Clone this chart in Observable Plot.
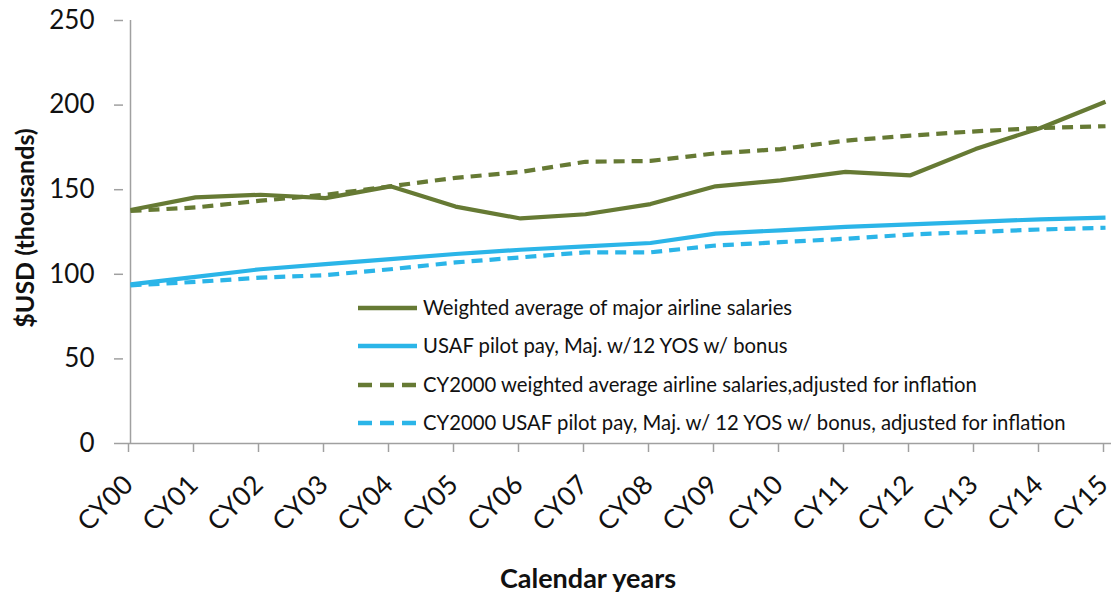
<!DOCTYPE html>
<html>
<head>
<meta charset="utf-8">
<script src="https://cdn.jsdelivr.net/npm/d3@7"></script>
<script src="https://cdn.jsdelivr.net/npm/@observablehq/plot@0.6"></script>
<style>
  html, body { margin: 0; padding: 0; background: #fff; }
  #chart svg { display: block; }
</style>
</head>
<body>
<div id="chart"></div>
<script>
const years = ["CY00","CY01","CY02","CY03","CY04","CY05","CY06","CY07","CY08","CY09","CY10","CY11","CY12","CY13","CY14","CY15"];
const airlineSalaries = [138, 145.5, 147, 145, 152, 140, 133, 135.5, 141.5, 152, 155.5, 160.5, 158.5, 174, 186.5, 202];
const usafPay = [94, 98.5, 103, 106, 109, 112, 114.5, 116.5, 118.5, 124, 126, 128, 129.5, 131, 132.5, 133.5];
const airlineAdjusted = [137.5, 139.5, 143.5, 147, 152, 157, 160.5, 166.5, 167, 171.5, 174, 179, 182, 184.5, 186.5, 187.5];
const usafAdjusted = [93.5, 95.5, 98, 99.5, 103, 107, 110, 113, 113, 117, 119, 121, 123.5, 125, 126.5, 127.5];
const seriesNames = [
  "Weighted average of major airline salaries",
  "USAF pilot pay, Maj. w/12 YOS w/ bonus",
  "CY2000 weighted average airline salaries,adjusted for inflation",
  "CY2000 USAF pilot pay, Maj. w/ 12 YOS w/ bonus, adjusted for inflation"
];
const yTicks = [0, 50, 100, 150, 200, 250];

const GREEN = "#667a34";
const BLUE = "#2bb5e8";
const AXIS = "#a0a0a0";
const FONT = "Lato, 'Open Sans', sans-serif";

const seriesDefs = [
  {name: seriesNames[0], values: airlineSalaries, color: GREEN, dash: null},
  {name: seriesNames[1], values: usafPay, color: BLUE, dash: null},
  {name: seriesNames[2], values: airlineAdjusted, color: GREEN, dash: "11,7"},
  {name: seriesNames[3], values: usafAdjusted, color: BLUE, dash: "11,7"}
];
const rows = s => years.map((y, i) => ({year: y, value: s.values[i]}));

const lineMarks = [];
[2, 3, 1, 0].forEach(k => {
  const s = seriesDefs[k];
  lineMarks.push(Plot.line(rows(s), {
    x: "year", y: "value", stroke: s.color, strokeWidth: 4.2,
    strokeDasharray: s.dash || undefined, strokeLinejoin: "round", strokeLinecap: "butt"
  }));
});

const chart = Plot.plot({
  width: 1117,
  height: 594,
  marginLeft: 123,
  marginRight: 6,
  marginTop: 20,
  marginBottom: 151,
  style: {fontFamily: FONT, background: "#fff", overflow: "visible"},
  x: {type: "point", domain: years, padding: 0},
  y: {domain: [0, 250]},
  marks: [
    Plot.ruleY([0], {stroke: AXIS, strokeWidth: 1.5}),
    Plot.ruleX([years[0]], {y1: 0, y2: 250, stroke: AXIS, strokeWidth: 1.5}),
    Plot.axisY({ticks: yTicks, tickSize: 9, tickPadding: 20, fontSize: 26, stroke: AXIS, strokeWidth: 1.5, fill: "#111", label: null}),
    Plot.axisX({tickRotate: -45, tickSize: 9, tickPadding: 28, fontSize: 26.5, dx: -2, stroke: AXIS, strokeWidth: 1.5, fill: "#111", label: null}),
    ...lineMarks
  ]
});

const svg = d3.select(chart);
svg.append("text")
  .attr("transform", "translate(34,228) rotate(-90)")
  .attr("text-anchor", "middle")
  .attr("font-family", FONT).attr("font-weight", "bold").attr("font-size", 25)
  .attr("fill", "#111")
  .text("$USD (thousands)");
svg.append("text")
  .attr("x", 588).attr("y", 588)
  .attr("text-anchor", "middle")
  .attr("font-family", FONT).attr("font-weight", "bold").attr("font-size", 27)
  .attr("fill", "#111")
  .text("Calendar years");

const legendY = [308, 346, 385, 423];
const lg = svg.append("g");
seriesDefs.forEach((s, i) => {
  lg.append("line")
    .attr("x1", 358).attr("x2", 417).attr("y1", legendY[i]).attr("y2", legendY[i])
    .attr("stroke", s.color).attr("stroke-width", 4.5)
    .attr("stroke-dasharray", s.dash ? "14,8" : null);
  lg.append("text")
    .attr("x", 423).attr("y", legendY[i] + 7)
    .attr("text-anchor", "start")
    .attr("font-family", FONT).attr("font-size", 20.3).attr("fill", "#111")
    .text(s.name);
});

document.getElementById("chart").append(chart);
</script>
</body>
</html>
